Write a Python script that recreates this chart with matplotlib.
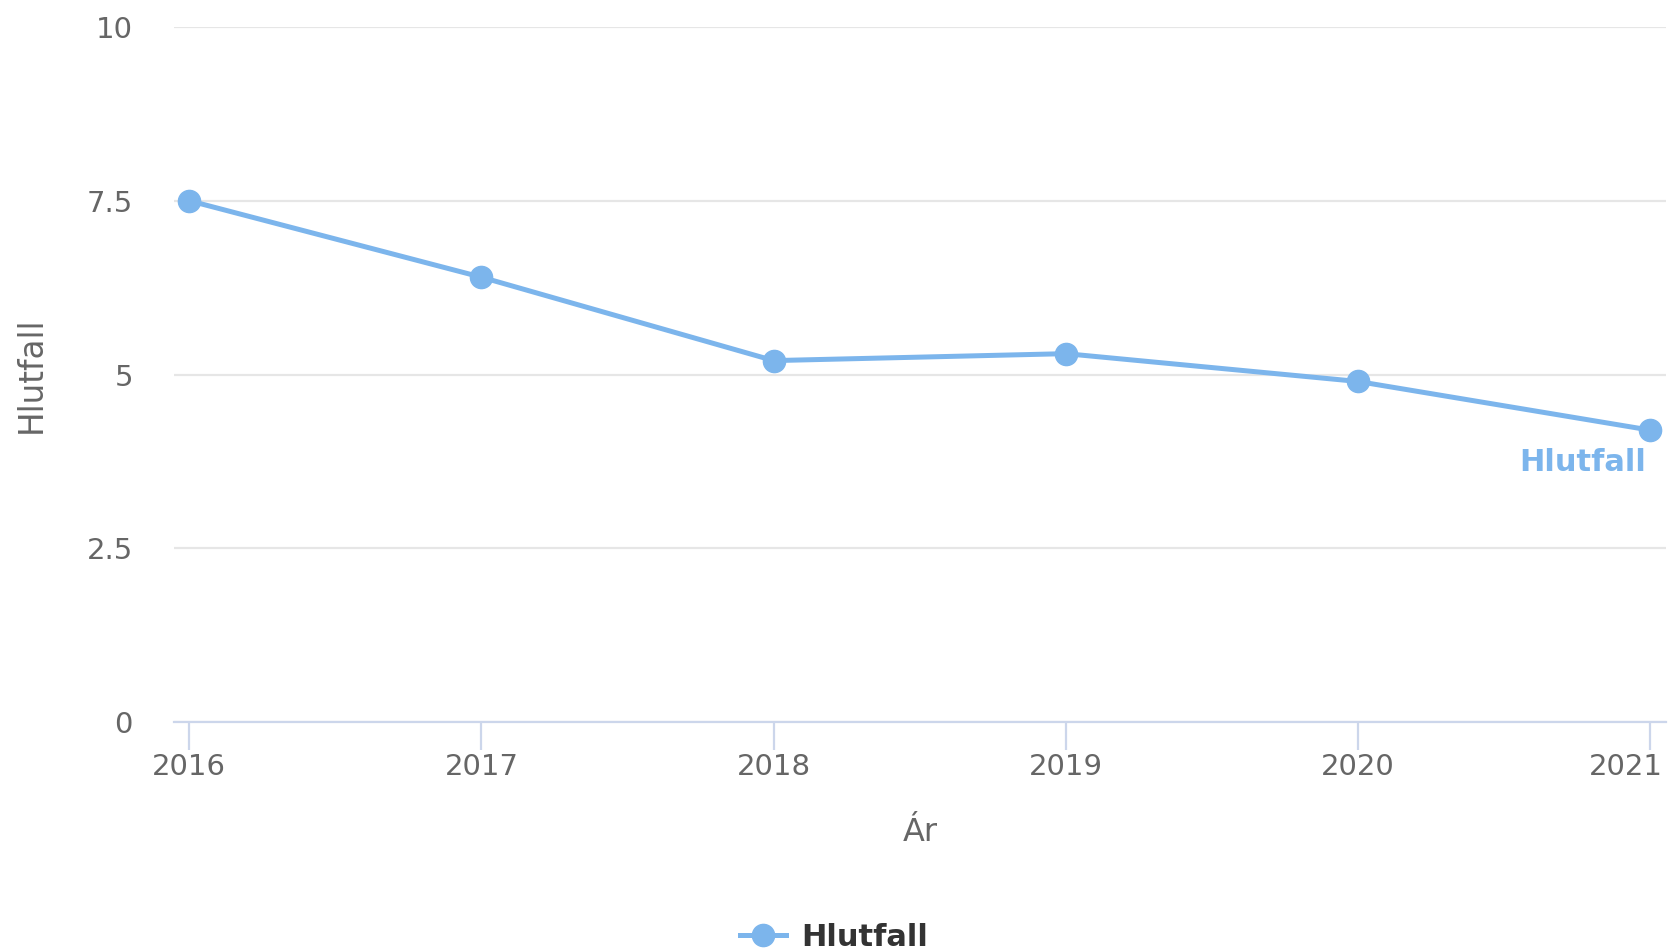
import matplotlib.pyplot as plt
import matplotlib.transforms as mtransforms
from matplotlib.lines import Line2D

years = [2016, 2017, 2018, 2019, 2020, 2021]
hlutfall = [7.5, 6.4, 5.2, 5.3, 4.9, 4.2]
y_ticks = [0, 2.5, 5, 7.5, 10]
y_tick_labels = ["0", "2.5", "5", "7.5", "10"]

blue = "#7cb5ec"
grey = "#666666"

plt.rcParams["font.family"] = "DejaVu Sans"

fig = plt.figure(figsize=(16.79, 9.51), dpi=100)
ax = fig.add_axes([0.1039, 0.2408, 0.8884, 0.7308])

ax.plot(years, hlutfall, color=blue, linewidth=3.6, marker="o",
        markersize=16, zorder=3, clip_on=False)

ax.set_xlim(2016 - 0.051, 2021 + 0.055)
ax.set_ylim(0, 10)
ax.set_xticks(years)
ax.set_yticks(y_ticks)
ax.set_yticklabels(y_tick_labels)

ax.grid(axis="y", color="#e6e6e6", linewidth=1.6)
ax.set_axisbelow(True)
for side in ["top", "right", "left"]:
    ax.spines[side].set_visible(False)
ax.spines["bottom"].set_color("#ccd6eb")
ax.spines["bottom"].set_linewidth(1.6)

ax.tick_params(axis="x", colors="#ccd6eb", length=20, width=1.6,
               labelcolor=grey, labelsize=21, pad=2)
ax.tick_params(axis="y", length=0, labelcolor=grey, labelsize=21, pad=30)

# last year label pulled inside the figure, like the original
last = ax.get_xticklabels()[-1]
last.set_transform(last.get_transform() +
                   mtransforms.ScaledTranslation(-0.24, 0, fig.dpi_scale_trans))

ax.set_xlabel("Ár", fontsize=23, color=grey, labelpad=26)
ax.set_ylabel("Hlutfall", fontsize=23.5, color=grey)
ax.yaxis.set_label_coords(-0.085, 0.5)

ax.annotate("Hlutfall", xy=(years[-1], hlutfall[-1]), xytext=(-3, -23),
            textcoords="offset points", ha="right", va="center",
            fontsize=22, fontweight="bold", color=blue)

handle = Line2D([0], [0], color=blue, linewidth=3.6, marker="o", markersize=16)
fig.legend([handle], ["Hlutfall"], loc="center", bbox_to_anchor=(0.497, 0.014),
           frameon=False, prop={"size": 22, "weight": "bold"},
           labelcolor="#333333", handlelength=1.5, handletextpad=0.5)

fig.savefig("out.png", dpi=100)
